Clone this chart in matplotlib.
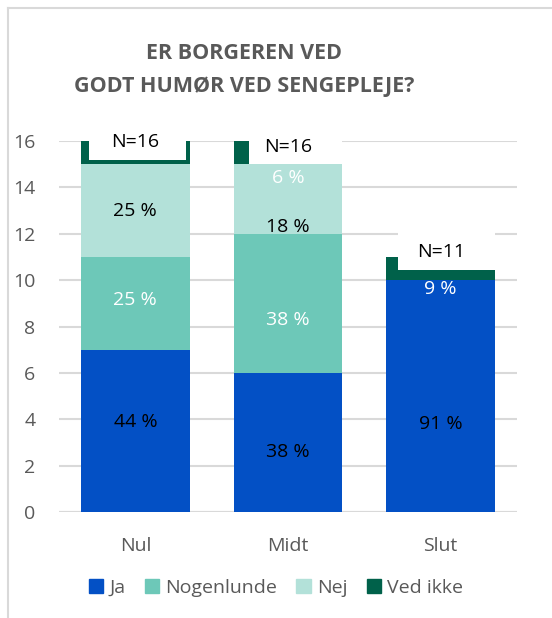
import numpy as np
import matplotlib.pyplot as plt
from matplotlib.lines import Line2D
from matplotlib.patches import Rectangle

# data
categories = ['Nul', 'Midt', 'Slut']
ja = [7, 6, 10]
nogenlunde = [4, 6, 0]
nej = [4, 3, 0]
ved_ikke = [1, 1, 1]
n_labels = ['N=16', 'N=16', 'N=11']

# procent-etiketter: (kategori, værdi på y, tekst, farve)
pct_labels = [
    (0, 3.9, '44 %', 'black'), (0, 9.15, '25 %', 'white'), (0, 13.0, '25 %', 'black'),
    (1, 2.6, '38 %', 'black'), (1, 8.3, '38 %', 'white'), (1, 12.3, '18 %', 'black'), (1, 14.4, '6 %', 'white'),
    (2, 3.8, '91 %', 'black'), (2, 9.6, '9 %', 'white'),
]

colors = {'Ja': '#0350C5', 'Nogenlunde': '#6DC8B8', 'Nej': '#B3E1D9', 'Ved ikke': '#00614A'}
gray = '#595959'
fs = 14
plt.rcParams['font.family'] = ['Open Sans', 'DejaVu Sans']

fig = plt.figure(figsize=(5.52, 6.18), dpi=100)
ax = fig.add_axes([59 / 552, 1 - 512 / 618, 458 / 552, 371 / 618])

x = np.arange(len(categories))
w = 0.713
bottom = np.zeros(3)
for name, vals in [('Ja', ja), ('Nogenlunde', nogenlunde), ('Nej', nej), ('Ved ikke', ved_ikke)]:
    ax.bar(x, vals, w, bottom=bottom, color=colors[name], label=name, zorder=2)
    bottom += np.array(vals)

for i, yv, txt, c in pct_labels:
    ax.text(i, yv, txt, ha='center', va='center', color=c, fontsize=fs, zorder=5)

# N-etiketter med hvid baggrund (som i Excel)
boxes = [(0 - w / 2 + 0.052, 15.2, w - 0.078, 1.3), (1 - w / 2 + 0.098, 15.0, w - 0.098, 1.4),
         (2 - w / 2 + 0.078, 10.45, w - 0.078, 1.7)]
for (bx, by, bw, bh) in boxes:
    ax.add_patch(Rectangle((bx, by), bw, bh, facecolor='white', edgecolor='none', zorder=3, clip_on=False))
n_pos = [(0, 15.95), (1, 15.75), (2, 11.2)]
for (i, yv), txt in zip(n_pos, n_labels):
    ax.text(i, yv, txt, ha='center', va='center', color='black', fontsize=fs, zorder=5)

ax.set_xlim(-0.5, 2.5)
ax.set_ylim(0, 16)
ax.set_yticks(range(0, 17, 2))
ax.set_xticks(x)
ax.set_xticklabels(categories)
ax.tick_params(length=0, colors=gray, labelsize=fs)
ax.tick_params(axis='x', pad=18)
ax.tick_params(axis='y', pad=17)
ax.grid(axis='y', color='#D9D9D9', linewidth=1.5, zorder=0)
for s in ax.spines.values():
    s.set_visible(False)
ax.axhline(0, color='#D9D9D9', linewidth=1.5, zorder=1)

fig.text(244 / 552, 1 - 70 / 618, 'ER BORGEREN VED\nGODT HUMØR VED SENGEPLEJE?', ha='center', va='center',
         fontsize=15.5, fontweight='bold', color=gray, linespacing=1.75)

handles = [Rectangle((0, 0), 1, 1, color=colors[k]) for k in colors]
fig.legend(handles, list(colors.keys()), loc='center', bbox_to_anchor=(276 / 552, 1 - 588 / 618), ncol=4,
           frameon=False, fontsize=fs, labelcolor=gray, handlelength=0.75, handleheight=0.75,
           handletextpad=0.3, columnspacing=1.0)

# ramme
fig.add_artist(Line2D([8 / 552, 8 / 552], [0, 1 - 8 / 618], color='#D9D9D9', linewidth=1.5))
fig.add_artist(Line2D([8 / 552, 1], [1 - 8 / 618, 1 - 8 / 618], color='#D9D9D9', linewidth=1.5))

fig.savefig('out.png', dpi=100)
